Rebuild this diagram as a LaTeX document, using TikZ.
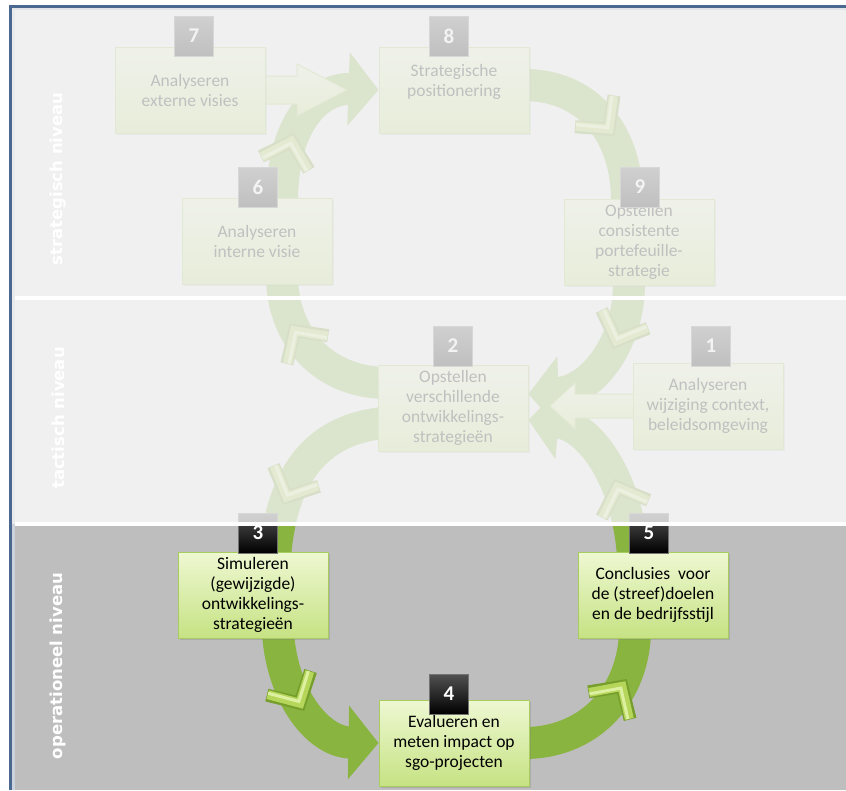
\documentclass[tikz,border=0pt]{standalone}
\usepackage{fontspec}
\setmainfont{Carlito}
\newfontfamily\levelfont{DejaVu Sans}
\usetikzlibrary{arrows.meta,calc,decorations.markings,shadows}

\definecolor{bandlight}{HTML}{F0F0F0}
\definecolor{banddark}{HTML}{BEBEBE}
\definecolor{frameblue}{HTML}{4A6890}
\definecolor{framestrip}{HTML}{CDD3DA}
\definecolor{ribbon}{HTML}{8AB440}
\definecolor{chevdark}{HTML}{769E2C}
\definecolor{chevmid}{HTML}{B5D65A}
\definecolor{chevlight}{HTML}{DDF0A2}
\definecolor{boxtop}{HTML}{EEF8D2}
\definecolor{boxbot}{HTML}{C6E283}
\definecolor{boxline}{HTML}{A8CC60}

\pgfdeclarelayer{bg}
\pgfdeclarelayer{rib}
\pgfdeclarelayer{fade}
\pgfdeclarelayer{front}
\pgfsetlayers{bg,rib,main,fade,front}

% bevelled chevron, vertex pointing along the path
\newcommand\chevshape{%
  \draw[-,chevdark,line width=13pt,line join=miter] (-12,-25) -- (11,0) -- (-12,25);
  \draw[-,chevmid,line width=9pt,line join=miter] (-12,-24) -- (11,0) -- (-12,24);
  \draw[-,chevlight,line width=3pt,line join=miter] (-13,-23) -- (9,0) -- (-13,23);}

\tikzset{
  stepbox/.style={draw=boxline, line width=1pt, top color=boxtop, bottom color=boxbot,
    minimum width=150pt, minimum height=86pt, inner sep=2pt, align=center,
    font=\fontsize{17.5}{20}\selectfont,
    drop shadow={shadow xshift=2pt, shadow yshift=-2pt, opacity=0.3}},
  badge/.style={minimum width=39pt, minimum height=40pt, inner sep=0pt,
    top color=black!68, bottom color=black, draw=black!55, text=white,
    font=\bfseries\fontsize{21}{21}\selectfont},
  ribbonline/.style={draw=ribbon, line width=32pt},
  headed/.style={-{Triangle[length=30pt,width=72pt]}},
  chevat/.style={postaction={decorate, decoration={markings,
      mark=at position #1 with {\chevshape}}}},
  blockarrow/.style={draw=boxline, line width=1pt, top color=boxtop, bottom color=boxbot},
  levellabel/.style={rotate=90, text=white, inner sep=0pt,
    font=\levelfont\bfseries\fontsize{16.5}{16.5}\selectfont},
}

\begin{document}
\begin{tikzpicture}[x=1pt,y=-1pt]
\useasboundingbox (0,0) rectangle (846,790);

% background bands and frame
\begin{pgfonlayer}{bg}
  \fill[white] (0,0) rectangle (846,790);
  \fill[bandlight] (12,8) rectangle (846,524);
  \fill[banddark] (12,524) rectangle (846,790);
  \fill[frameblue] (9,5) rectangle (12,790);
  \fill[frameblue] (9,5) rectangle (846,8);
  \fill[framestrip] (12,8) rectangle (15,790);
  \fill[framestrip!60!white] (12,8) rectangle (846,10);
\end{pgfonlayer}

% process steps
\node[stepbox] (b7) at (190,90)  {Analyseren\\externe visies};
\node[stepbox] (b8) at (454,90)  {Strategische\\positionering\\\mbox{}};
\node[stepbox] (b6) at (257,241) {Analyseren\\interne visie};
\node[stepbox] (b9) at (639,242) {Opstellen\\consistente\\portefeuille-\\strategie};
\node[stepbox] (b2) at (453,408) {Opstellen\\verschillende\\ontwikkelings-\\strategieën};
\node[stepbox] (b1) at (708,406) {Analyseren\\wijziging context,\\beleidsomgeving};
\node[stepbox] (b3) at (253,595) {Simuleren\\(gewijzigde)\\ontwikkelings-\\strategieën};
\node[stepbox] (b5) at (653,595) {Conclusies\ \ voor\\de (streef)doelen\\en de bedrijfsstijl};
\node[stepbox] (b4) at (454,743) {Evalueren en\\meten impact op\\sgo-projecten};

% step numbers
\node[badge] (n7) at (194,36)  {7};
\node[badge] (n8) at (449,36)  {8};
\node[badge] (n6) at (258,187) {6};
\node[badge] (n9) at (640,187) {9};
\node[badge] (n2) at (453,346) {2};
\node[badge] (n1) at (711,346) {1};
\node[badge] (n3) at (258,533) {3};
\node[badge] (n5) at (649,533) {5};
\node[badge] (n4) at (449,694) {4};

% curved flow ribbons
\begin{pgfonlayer}{rib}
  % operational loop
  \draw[ribbonline,headed,chevat=0.38] ($(b3.south)+(25,-5)$)
    .. controls (283,700) and (320,742) .. (b4.west);
  \draw[ribbonline,chevat=0.62] ($(b4.east)+(-5,0)$)
    .. controls (585,743) and (632,700) .. ($(b5.south)+(-18,-5)$);
  \draw[ribbonline,headed,chevat=0.32] ($(b5.north)+(-20,5)$)
    .. controls (628,480) and (590,425) .. ($(b2.east)+(0,12)$);
  \draw[ribbonline,chevat=0.62] ($(b2.west)+(5,15)$)
    .. controls (320,430) and (282,470) .. ($(b3.north)+(22,5)$);
  % strategic loop
  \draw[ribbonline,chevat=0.6] ($(b2.west)+(5,-25)$)
    .. controls (320,380) and (284,335) .. ($(b6.south)+(25,-5)$);
  \draw[ribbonline,headed,chevat=0.3] ($(b6.north)+(25,5)$)
    .. controls (282,120) and (320,88) .. (b8.west);
  \draw[ribbonline,chevat=0.5] ($(b8.east)+(-5,-5)$)
    .. controls (585,85) and (628,130) .. ($(b9.north)+(-12,5)$);
  \draw[ribbonline,headed,chevat=0.3] ($(b9.south)+(-10,-5)$)
    .. controls (630,345) and (590,392) .. ($(b2.east)+(0,-14)$);

  % straight input arrows
  \coordinate (t78) at (347,90);
  \draw[blockarrow] ($(b7.east)+(-1,-14)$) -- ($(t78)+(-50,-14)$) -- ($(t78)+(-50,-26)$)
    -- (t78) -- ($(t78)+(-50,26)$) -- ($(t78)+(-50,14)$) -- ($(b7.east)+(-1,14)$) -- cycle;
  \coordinate (t12) at (550,406);
  \draw[blockarrow] ($(b1.west)+(1,-12)$) -- ($(t12)+(25,-12)$) -- ($(t12)+(25,-23)$)
    -- (t12) -- ($(t12)+(25,23)$) -- ($(t12)+(25,12)$) -- ($(b1.west)+(1,12)$) -- cycle;
\end{pgfonlayer}

% strategic and tactical levels are shown faded
\begin{pgfonlayer}{fade}
  \fill[bandlight,opacity=0.8] (12,10) rectangle (846,524);
\end{pgfonlayer}

\begin{pgfonlayer}{front}
  \fill[white] (15,296) rectangle (846,300);
  \fill[white] (15,522) rectangle (846,526);
  \node[levellabel] (l1) at (58,179) {strategisch niveau};
  \node[levellabel] (l2) at (58,418) {tactisch niveau};
  \node[levellabel] (l3) at (58,666) {operationeel niveau};
\end{pgfonlayer}
\end{tikzpicture}
\end{document}
